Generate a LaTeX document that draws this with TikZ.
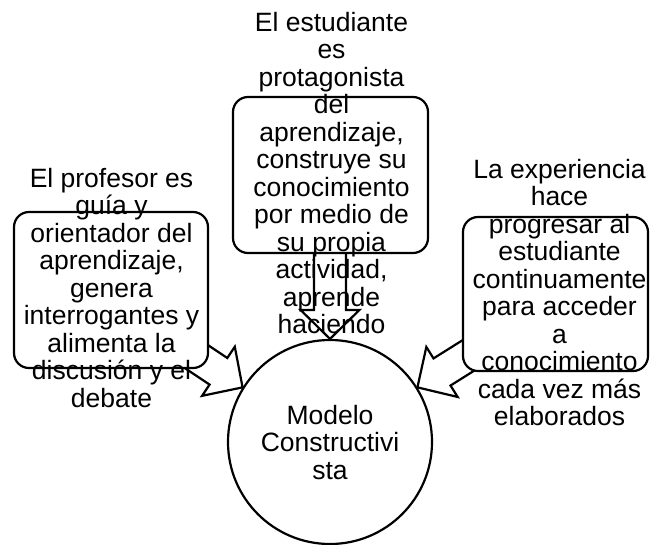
\documentclass[tikz,border=0pt]{standalone}
\usepackage{fontspec}
\setmainfont{Liberation Sans}
\usetikzlibrary{calc}
\tikzset{
  outline/.style={line width=2.2pt, line join=miter},
  roundbox/.style={outline, draw, fill=white, rectangle, rounded corners=15pt, inner sep=0pt},
  txt/.style={align=center, inner sep=0pt, anchor=north, font=\fontsize{26.5}{27.5}\selectfont},
  blockarrow/.style={outline, draw},
}
\newcommand\blockarr[2]{%
  \coordinate (#1H) at ($(#2)!29pt!(#1)$);
  \draw[blockarrow]
    ($(#1)!16pt!90:(#2)$) -- ($(#1H)!16pt!90:(#2)$) -- ($(#1H)!29.5pt!90:(#2)$)
    -- (#2) -- ($(#1H)!29.5pt!-90:(#2)$) -- ($(#1H)!16pt!-90:(#2)$)
    -- ($(#1)!16pt!-90:(#2)$) -- cycle;
}
\begin{document}
\begin{tikzpicture}[x=1pt,y=-1pt]
\useasboundingbox (0,0) rectangle (650,544);
% circle
\node[circle, draw, outline, minimum size=204pt, inner sep=0pt] (circ) at (330,442) {};
\coordinate (tipT) at (circ.north);
\coordinate (tipL) at (circ.148);
\coordinate (tipR) at (circ.32);
\coordinate (tailT) at (330,240);
\coordinate (tailL) at (170,339);
\coordinate (tailR) at (493,340);
% block arrows
\blockarr{tailT}{tipT}
\blockarr{tailL}{tipL}
\blockarr{tailR}{tipR}
% boxes
\node[roundbox, minimum width=195pt, minimum height=156pt] (boxT) at (330.5,175) {};
\node[roundbox, minimum width=194pt, minimum height=156pt] (boxL) at (111,290) {};
\node[roundbox, minimum width=185pt, minimum height=154pt] (boxR) at (555.5,294) {};
% texts
\node[txt] (txtT) at (331.5,12) {El estudiante\\es\\protagonista\\del\\aprendizaje,\\construye su\\conocimiento\\por medio de\\su propia\\actividad,\\aprende\\haciendo};
\node[txt] (txtL) at (111.5,168) {El profesor es\\guía y\\orientador del\\aprendizaje,\\genera\\interrogantes y\\alimenta la\\discusión y el\\debate};
\node[txt] (txtR) at (559.5,159) {La experiencia\\hace\\progresar al\\estudiante\\continuamente\\para acceder\\a\\conocimiento\\cada vez más\\elaborados};
\node[txt] (txtC) at (330,405) {Modelo\\Constructivi\\sta};
\end{tikzpicture}
\end{document}
